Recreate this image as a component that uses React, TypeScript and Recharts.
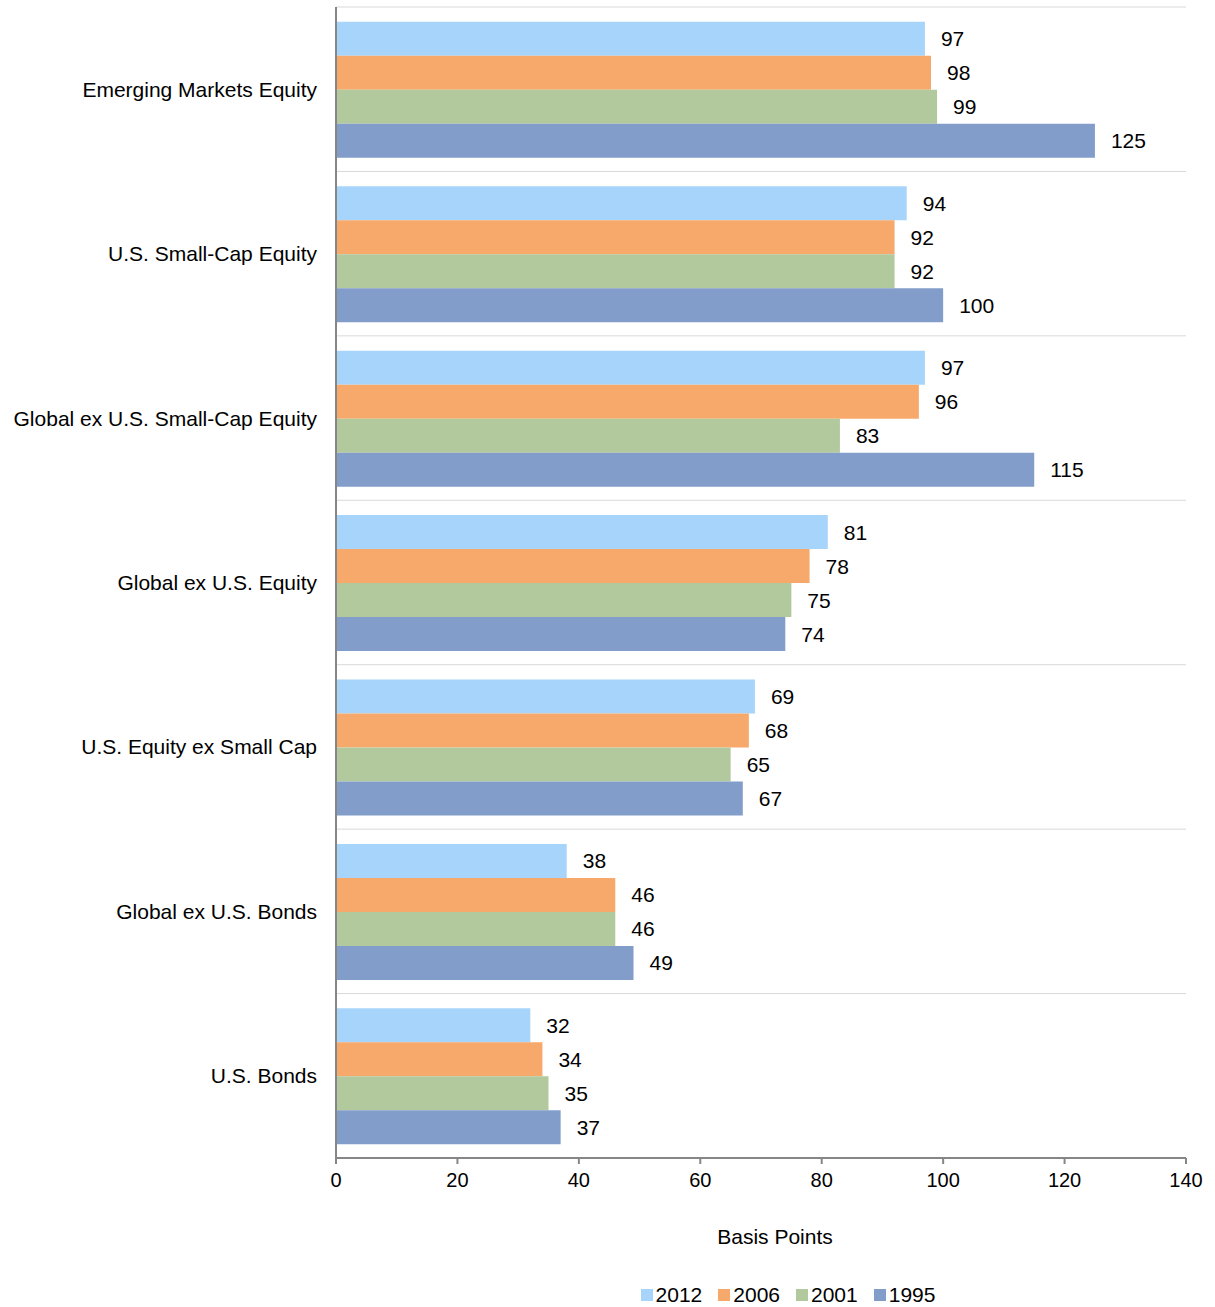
import { Bar, BarChart, CartesianGrid, Label, LabelList, Legend, XAxis, YAxis } from "recharts";

const categories = [
  "Emerging Markets Equity",
  "U.S. Small-Cap Equity",
  "Global ex U.S. Small-Cap Equity",
  "Global ex U.S. Equity",
  "U.S. Equity ex Small Cap",
  "Global ex U.S. Bonds",
  "U.S. Bonds",
];

const fees2012 = [97, 94, 97, 81, 69, 38, 32];
const fees2006 = [98, 92, 96, 78, 68, 46, 34];
const fees2001 = [99, 92, 83, 75, 65, 46, 35];
const fees1995 = [125, 100, 115, 74, 67, 49, 37];

const xTicks = [0, 20, 40, 60, 80, 100, 120, 140];

const series = [
  { key: "2012", values: fees2012, color: "#a6d4fa" },
  { key: "2006", values: fees2006, color: "#f6a96a" },
  { key: "2001", values: fees2001, color: "#b1c99d" },
  { key: "1995", values: fees1995, color: "#829dc9" },
];

const data = categories.map((name, i) => {
  const row: Record<string, string | number> = { name };
  series.forEach((s) => {
    row[s.key] = s.values[i];
  });
  return row;
});

const FONT = "'Liberation Sans', Arial, sans-serif";

function FeeLegend() {
  return (
    <div
      style={{
        display: "flex",
        justifyContent: "center",
        paddingLeft: 406,
        paddingTop: 25,
        fontFamily: FONT,
        fontSize: 21,
        lineHeight: "24px",
      }}
    >
      {series.map((s) => (
        <span key={s.key} style={{ display: "flex", alignItems: "center", marginRight: 16 }}>
          <span style={{ width: 12, height: 12, background: s.color, marginRight: 3, display: "inline-block" }} />
          {s.key}
        </span>
      ))}
    </div>
  );
}

export default function App() {
  return (
    <div style={{ position: "absolute", left: 0, top: 0, background: "#fff", fontFamily: FONT }}>
      <BarChart
        width={1215}
        height={1307}
        data={data}
        layout="vertical"
        margin={{ top: 7, right: 29, bottom: 0, left: 0 }}
        barCategoryGap="9%"
        barGap={0}
      >
        <CartesianGrid
          stroke="#d9d9d9"
          vertical={false}
          horizontalCoordinatesGenerator={({ offset }: any) =>
            categories.map((_, i) => offset.top + (i * offset.height) / categories.length)
          }
        />
        <XAxis
          type="number"
          domain={[0, 140]}
          ticks={xTicks}
          height={100}
          stroke="#868686"
          strokeWidth={2}
          tickSize={6}
          tickMargin={9}
          tick={{ fill: "#000", fontSize: 20, fontFamily: FONT }}
        >
          <Label value="Basis Points" position="insideBottom" offset={14} dx={14} fill="#000" fontSize={21} fontFamily={FONT} />
        </XAxis>
        <YAxis
          type="category"
          dataKey="name"
          width={336}
          stroke="#868686"
          strokeWidth={2}
          tickLine={false}
          tickSize={8}
          tickMargin={11}
          tick={{ fill: "#000", fontSize: 21, fontFamily: FONT }}
        />
        <Legend verticalAlign="bottom" height={49} content={<FeeLegend />} />
        {series.map((s) => (
          <Bar key={s.key} dataKey={s.key} fill={s.color} isAnimationActive={false}>
            <LabelList dataKey={s.key} position="right" offset={16} fill="#000" fontSize={21} fontFamily={FONT} />
          </Bar>
        ))}
      </BarChart>
    </div>
  );
}
